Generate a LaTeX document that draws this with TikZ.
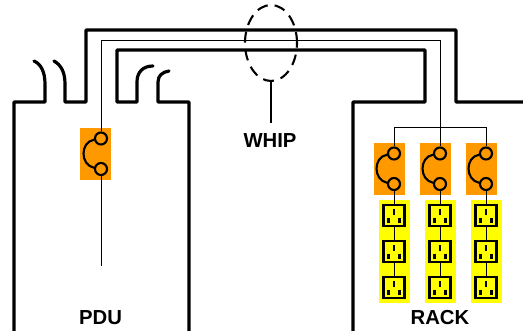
\documentclass[tikz,border=0pt]{standalone}
\usetikzlibrary{shapes.geometric}
\usepackage{fontspec}
\setmainfont{Liberation Sans}
\definecolor{brk}{HTML}{FF9900}
\definecolor{strip}{HTML}{FFFF00}
\tikzset{
  wall/.style={line width=3.2pt,line join=round,line cap=round},
  wire/.style={line width=1pt},
  brkbox/.style={fill=brk,draw=none,minimum width=31pt,minimum height=52pt,inner sep=0pt,anchor=north},
  stripbox/.style={fill=strip,draw=none,minimum width=31pt,minimum height=103pt,inner sep=0pt,anchor=north},
  term/.style={circle,draw,line width=2.1pt,fill=brk,minimum size=12pt,inner sep=0pt},
  outlet/.style={draw,line width=2.1pt,fill=strip,minimum size=21pt,inner sep=0pt},
  slot/.style={line width=2.1pt},
  bridge/.style={line width=2.1pt},
  lbl/.style={font=\fontsize{20.3pt}{21pt}\selectfont\bfseries,inner sep=0pt},
  whipring/.style={draw,ellipse,dash pattern=on 11pt off 7pt,line width=2.1pt,minimum width=52pt,minimum height=76pt,inner sep=0pt},
}
\newcommand{\myoutlet}[3]{%
  \node[outlet] (#1) at (#2,#3) {};
  \draw[slot] (#2,#3-6.5) -- (#2,#3-1);
  \draw[slot] (#2-5.5,#3+2) -- (#2-5.5,#3+7);
  \draw[slot] (#2+5.5,#3+2) -- (#2+5.5,#3+7);
}
\begin{document}
\begin{tikzpicture}[x=1pt,y=-1pt]
\useasboundingbox (0,0) rectangle (523,330);
% building outlines
\draw[wall] (14,333) -- (14,102) -- (45,102) -- (45,84) .. controls (45,72) and (41,64) .. (34,61);
\draw[wall] (54,61) .. controls (61,65) and (65,72) .. (65,84) -- (65,102) -- (86,102) -- (86,30) -- (456,30) -- (456,102) -- (526,102);
\draw[wall] (153,66) .. controls (143,66) and (137,72) .. (137,82) -- (137,102) -- (117,102) -- (117,50) -- (425,50) -- (425,102) -- (353,102) -- (353,333);
\draw[wall] (169,71) .. controls (162,72) and (158,76) .. (158,82) -- (158,102) -- (189,102) -- (189,333);
% boxes
\node[stripbox] (s1) at (394.5,200) {};
\node[stripbox] (s2) at (440.5,200) {};
\node[stripbox] (s3) at (486.5,200) {};
\node[brkbox] (pbox) at (95.5,128) {};
\node[brkbox] (r1) at (389.5,143) {};
\node[brkbox] (r2) at (435.5,143) {};
\node[brkbox] (r3) at (481.5,143) {};
% free wire points
\coordinate (pduend) at (101,266);
\coordinate (wa) at (101,40);
\coordinate (wb) at (440,40);
\coordinate (bl) at (394,127);
\coordinate (bc) at (440,127);
\coordinate (br) at (486,127);
% terminals
\foreach \n/\x/\y in {p/101/128,a/394/143,b/440/143,c/486/143}{
  \node[term] (\n t) at (\x,\y+10.5) {};
  \node[term] (\n b) at (\x,\y+41) {};
}
% outlets
\foreach \x/\k in {394/a,440/b,486/c}{
  \myoutlet{o\k1}{\x}{215.5}
  \myoutlet{o\k2}{\x}{251.5}
  \myoutlet{o\k3}{\x}{287.5}
}
% wires
\draw[wire] (pt) -- (wa) -- (wb) -- (bt);
\draw[wire] (pb) -- (pduend);
\draw[wire] (at) -- (bl) -- (br) -- (ct);
\foreach \k in {a,b,c}{
  \draw[wire] (\k b) -- (o\k1);
  \draw[wire] (o\k1) -- (o\k2);
  \draw[wire] (o\k2) -- (o\k3);
}
% breaker bridges
\foreach \n/\x/\y in {p/101/128,a/394/143,b/440/143,c/486/143}{
  \draw[bridge] (\n t.190) .. controls (\x-21,\y+14) and (\x-21,\y+37) .. (\n b.170);
}
% whip marker
\node[whipring] (whip) at (271,43) {};
\node[lbl] (whiplabel) at (270,141) {WHIP};
\draw[line width=2.1pt] (whip.south) -- (271,123);
\node[lbl] (pdu) at (100.5,317.5) {PDU};
\node[lbl] (rack) at (440,317.5) {RACK};
\end{tikzpicture}
\end{document}
